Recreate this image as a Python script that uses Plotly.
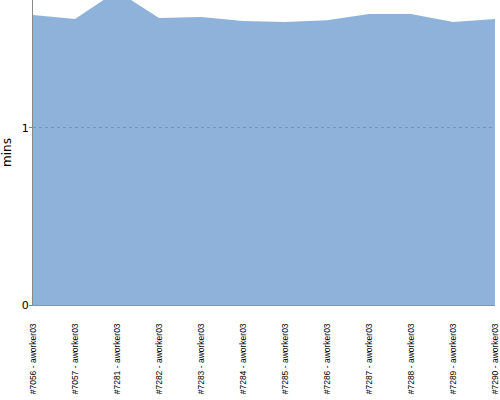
import plotly.graph_objects as go

# builds (x categories) and duration in minutes
builds = [
    "#7056 - aworker03", "#7057 - aworker03", "#7281 - aworker03",
    "#7282 - aworker03", "#7283 - aworker03", "#7284 - aworker03",
    "#7285 - aworker03", "#7286 - aworker03", "#7287 - aworker03",
    "#7288 - aworker03", "#7289 - aworker03", "#7290 - aworker03",
]
minutes = [1.638, 1.616, 1.774, 1.621, 1.627, 1.605,
           1.599, 1.608, 1.644, 1.644, 1.599, 1.616]
y_ticks = [0, 1]

fig = go.Figure(go.Scatter(
    x=builds,
    y=minutes,
    mode="lines",
    line=dict(width=0),
    fill="tozeroy",
    fillcolor="rgba(31,101,183,0.5)",
    hoverinfo="x+y",
))

fig.update_layout(
    width=500,
    height=400,
    margin=dict(l=33, r=5, t=0, b=95),
    paper_bgcolor="white",
    plot_bgcolor="white",
    showlegend=False,
    font=dict(family="DejaVu Sans", size=11, color="black"),
)

fig.update_xaxes(
    type="category",
    range=[-0.0005, len(builds) - 1 + 0.0005],
    automargin=False,
    tickangle=-90,
    tickfont=dict(family="Liberation Sans", size=8.5),
    ticklabelstandoff=14,
    showline=True,
    linecolor="#8093b3",
    linewidth=1,
    showgrid=False,
    ticks="",
)

fig.update_yaxes(
    range=[0, 1.723],
    automargin=False,
    tickvals=y_ticks,
    ticks="outside",
    ticklen=3,
    tickcolor="#888888",
    ticklabelstandoff=-2,
    showline=True,
    linecolor="#888888",
    linewidth=1,
    showgrid=True,
    gridcolor="#c4c4c4",
    griddash="dot",
    zeroline=False,
    title=dict(text="mins", font=dict(size=12), standoff=8),
)

# the page body has a default 8px margin; drop it so the chart sits at 0,0
fig.write_html(
    "out.html",
    config={"displayModeBar": False},
    post_script="document.body.style.margin='0';document.body.style.overflow='hidden';",
)
